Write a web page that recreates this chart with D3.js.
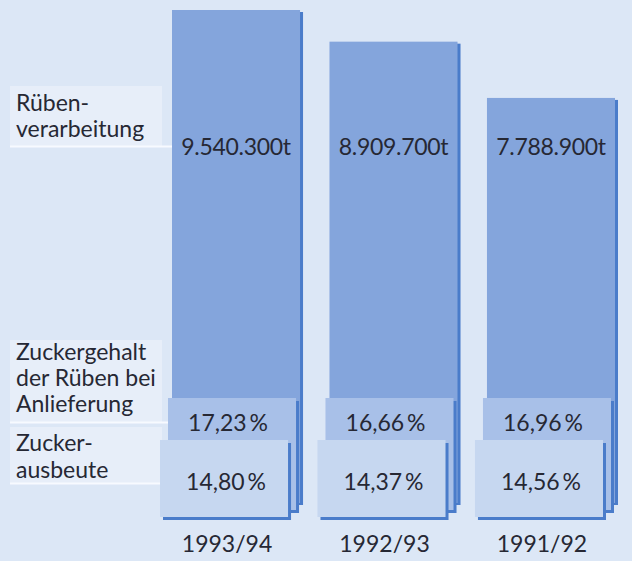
<!DOCTYPE html>
<html>
<head>
<meta charset="utf-8">
<script src="https://cdn.jsdelivr.net/npm/d3@7"></script>
<style>
  body { margin: 0; background: #dce7f6; }
  svg { display: block; }
  text { font-family: Lato, "Open Sans", sans-serif; fill: #262834; }
</style>
</head>
<body>
<svg id="chart" width="632" height="561"></svg>
<script>
// data
var years = ["1993/94", "1992/93", "1991/92"];
var beetTonnes = [9540300, 8909700, 7788900];   // Rübenverarbeitung
var sugarContent = [17.23, 16.66, 16.96];        // Zuckergehalt der Rüben bei Anlieferung
var sugarYield = [14.80, 14.37, 14.56];          // Zuckerausbeute
var rowLabels = [
	["Rüben-", "verarbeitung"],
	["Zuckergehalt", "der Rüben bei", "Anlieferung"],
	["Zucker-", "ausbeute"]
];

var de = d3.formatLocale({decimal: ",", thousands: ".", grouping: [3], currency: ["", " €"]});
var fmtT = de.format(",d");
var fmtP = de.format(",.2f");

var svg = d3.select("#chart");
var width = 632, height = 561;

svg.append("rect").attr("width", width).attr("height", height).attr("fill", "#dce7f6");

var x = d3.scaleBand()
	.domain(years)
	.range([172, 615])
	.paddingInner(0.187);

// tall bars: top from the value
var y = d3.scaleLinear()
	.domain([0, d3.max(beetTonnes)])
	.range([489, 10]);

var cTall = "#84a5dc", cMid = "#a8c0e8", cFront = "#c6d7f0", cEdge = "#4a7cca";
var midShift = -4, frontShift = -12;
var tallBottom = 503, midTop = 398, midBottom = 510, frontTop = 440, frontBottom = 517;
var fs = "23px";

var rows = years.map(function(d, i) {
	return {year: d, t: beetTonnes[i], c: sugarContent[i], a: sugarYield[i]};
});

// label boxes on the left
var boxes = [
	{y0: 86, y1: 147, right: 172},
	{y0: 340, y1: 423, right: 168},
	{y0: 427, y1: 484, right: 160}
];
var lines = [
	[111, 137],
	[360, 386, 412],
	[451, 478]
];
boxes.forEach(function(b, i) {
	svg.append("rect")
		.attr("x", 10).attr("y", b.y0)
		.attr("width", 152).attr("height", b.y1 - b.y0)
		.attr("fill", "#e7eef9");
	svg.append("rect")
		.attr("x", 10).attr("y", b.y1 - 1.5)
		.attr("width", b.right - 10).attr("height", 2)
		.attr("fill", "#f7faff");
	rowLabels[i].forEach(function(s, j) {
		svg.append("text")
			.attr("x", 16).attr("y", lines[i][j])
			.attr("font-size", fs)
			.text(s);
	});
});

var g = svg.selectAll("g.year").data(rows).enter().append("g").attr("class", "year");

// tall bar
g.append("rect")
	.attr("x", function(d) { return x(d.year) + 3; })
	.attr("y", function(d) { return y(d.t) + 2; })
	.attr("width", x.bandwidth())
	.attr("height", function(d) { return tallBottom - y(d.t); })
	.attr("fill", cEdge);
g.append("rect")
	.attr("x", function(d) { return x(d.year); })
	.attr("y", function(d) { return y(d.t); })
	.attr("width", x.bandwidth())
	.attr("height", function(d) { return tallBottom - y(d.t); })
	.attr("fill", cTall);

// middle sheet
g.append("rect")
	.attr("x", function(d) { return x(d.year) + midShift + 3; })
	.attr("y", midTop + 3)
	.attr("width", x.bandwidth())
	.attr("height", midBottom - midTop)
	.attr("fill", cEdge);
g.append("rect")
	.attr("x", function(d) { return x(d.year) + midShift; })
	.attr("y", midTop)
	.attr("width", x.bandwidth())
	.attr("height", midBottom - midTop)
	.attr("fill", cMid);

// front sheet
g.append("rect")
	.attr("x", function(d) { return x(d.year) + frontShift + 3; })
	.attr("y", frontTop + 3)
	.attr("width", x.bandwidth())
	.attr("height", frontBottom - frontTop)
	.attr("fill", cEdge);
g.append("rect")
	.attr("x", function(d) { return x(d.year) + frontShift; })
	.attr("y", frontTop)
	.attr("width", x.bandwidth())
	.attr("height", frontBottom - frontTop)
	.attr("fill", cFront);

// value texts
g.append("text")
	.attr("x", function(d) { return x(d.year) + x.bandwidth() / 2; })
	.attr("y", 155)
	.attr("text-anchor", "middle")
	.attr("font-size", fs)
	.attr("letter-spacing", "-0.3px")
	.text(function(d) { return fmtT(d.t) + "t"; });

g.append("text")
	.attr("x", function(d) { return x(d.year) + midShift + x.bandwidth() / 2 - 4; })
	.attr("y", 431)
	.attr("text-anchor", "middle")
	.attr("font-size", fs)
	.text(function(d) { return fmtP(d.c) + "\u2009%"; });

g.append("text")
	.attr("x", function(d) { return x(d.year) + frontShift + x.bandwidth() / 2 + 2; })
	.attr("y", 490)
	.attr("text-anchor", "middle")
	.attr("font-size", fs)
	.text(function(d) { return fmtP(d.a) + "\u2009%"; });

// year labels
g.append("text")
	.attr("x", function(d) { return x(d.year) + frontShift + x.bandwidth() / 2 + 3; })
	.attr("y", 552)
	.attr("text-anchor", "middle")
	.attr("font-size", fs)
	.text(function(d) { return d.year; });
</script>
</body>
</html>
